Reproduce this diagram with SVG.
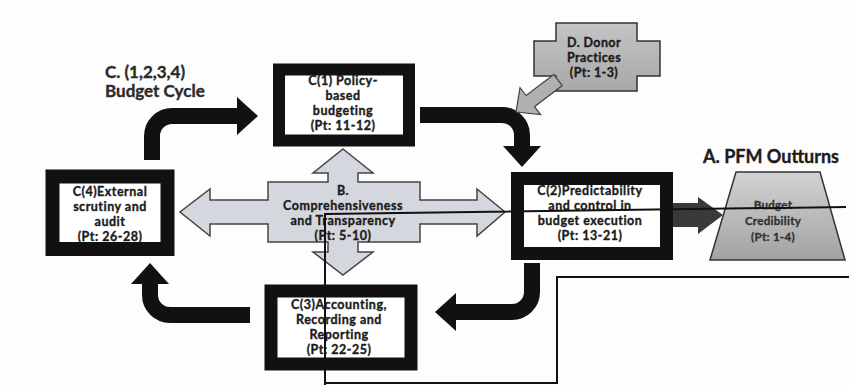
<svg xmlns="http://www.w3.org/2000/svg" width="849" height="385" viewBox="0 0 849 385">
<defs>
<style>
.t{font-family:Lato,"Liberation Sans",sans-serif;font-weight:bold;fill:#1c1c1c;text-anchor:middle;stroke:#1c1c1c;stroke-width:0.35px}
.bx{font-size:12.5px;letter-spacing:0.5px}
.ttl{font-size:17px;text-anchor:start;fill:#2a2a2a;stroke:#2a2a2a}
.box{fill:#fff;stroke:#111}
.blk{fill:none;stroke:#111;stroke-width:16}
.thin{fill:none;stroke:#111;stroke-width:2}
.gr{fill:#333;stroke:#333;font-size:11.5px;letter-spacing:0.3px}
</style>
<marker id="ah" markerUnits="userSpaceOnUse" markerWidth="22" markerHeight="38" viewBox="0 0 22 38" refX="0" refY="19" orient="auto">
<path d="M0,0 L21,19 L0,38 z" fill="#111"/>
</marker>
<linearGradient id="gA" x1="0" y1="0" x2="0" y2="1">
<stop offset="0" stop-color="#d2d2d2"/>
<stop offset="1" stop-color="#a2a2a2"/>
</linearGradient>
<linearGradient id="gD" x1="0" y1="0" x2="0" y2="1">
<stop offset="0" stop-color="#c4c4c4"/>
<stop offset="1" stop-color="#a8a8a8"/>
</linearGradient>
</defs>
<rect width="849" height="385" fill="#fdfdfd"/>

<g id="connectors">
<path class="blk" d="M152,160 V136 A20,20 0 0 1 172,116 H237" marker-end="url(#ah)"/>
<path class="blk" d="M420,115 H502 A20,20 0 0 1 522,135 V146" marker-end="url(#ah)"/>
<path class="blk" d="M532,263 V292 A20,20 0 0 1 512,312 H456" marker-end="url(#ah)"/>
<path class="blk" d="M250,315 H170 A20,20 0 0 1 150,295 V284" marker-end="url(#ah)"/>
<polygon points="673,203 698,203 698,197 723,215 698,234 698,227 673,227" fill="#3a3a3a"/>
</g>

<g id="B">
<polygon points="343,149 373,173 358,173 358,182 420,182 420,200 477,200 477,189 505,212 477,236 477,224 420,224 420,242 358,242 358,252 373,252 343,275 313,252 328,252 328,242 268,242 268,224 210,224 210,236 180,212 210,189 210,200 268,200 268,182 328,182 328,173 313,173" fill="#d5d7de" stroke="#444" stroke-width="1.5"/>
<text class="t bx" x="343" y="195">B.</text>
<text class="t bx" x="343" y="210">Comprehensiveness</text>
<text class="t bx" x="343" y="225">and Transparency</text>
<text class="t bx" x="343" y="240">(Pt: 5-10)</text>
</g>

<g id="C1">
<rect class="box" x="279" y="69.5" width="130" height="71" stroke-width="12"/>
<text class="t bx" x="343" y="85">C(1) Policy-</text>
<text class="t bx" x="343" y="100">based</text>
<text class="t bx" x="343" y="115">budgeting</text>
<text class="t bx" x="343" y="130">(Pt: 11-12)</text>
</g>

<g id="C2">
<rect class="box" x="517.5" y="178.5" width="149" height="75" stroke-width="13"/>
<text class="t bx" x="590" y="195">C(2)Predictability</text>
<text class="t bx" x="590" y="210">and control in</text>
<text class="t bx" x="590" y="225">budget execution</text>
<text class="t bx" x="590" y="240">(Pt: 13-21)</text>
</g>

<g id="C3">
<rect class="box" x="271" y="291" width="140" height="73" stroke-width="13"/>
<text class="t bx" x="339" y="309">C(3)Accounting,</text>
<text class="t bx" x="339" y="324">Recording and</text>
<text class="t bx" x="339" y="339">Reporting</text>
<text class="t bx" x="339" y="354">(Pt: 22-25)</text>
</g>

<g id="C4">
<rect class="box" x="52.5" y="176.5" width="115" height="72.5" stroke-width="14"/>
<text class="t bx" x="110" y="196">C(4)External</text>
<text class="t bx" x="110" y="211">scrutiny and</text>
<text class="t bx" x="110" y="226">audit</text>
<text class="t bx" x="110" y="241">(Pt: 26-28)</text>
</g>

<g id="cycle-label">
<text class="t ttl" x="105" y="78">C. (1,2,3,4)</text>
<text class="t ttl" x="105" y="97">Budget Cycle</text>
</g>

<g id="A">
<text class="t" x="771" y="163" style="font-size:18px">A. PFM Outturns</text>
<polygon points="736,172 820,172 845,260 710,260" fill="url(#gA)" stroke="#333" stroke-width="1.5"/>
<text class="t gr" x="773" y="209">Budget</text>
<text class="t gr" x="773" y="225">Credibility</text>
<text class="t gr" x="773" y="241">(Pt: 1-4)</text>
</g>

<g id="D">
<polygon points="556,23 637,23 637,41 660,41 660,76 637,76 637,91 556,91 556,76 534,76 534,41 556,41" fill="url(#gD)" stroke="#333" stroke-width="1.5"/>
<text class="t" x="594" y="47" style="font-size:12.5px;letter-spacing:0.4px">D. Donor</text>
<text class="t" x="594" y="62" style="font-size:12.5px;letter-spacing:0.4px">Practices</text>
<text class="t" x="594" y="77" style="font-size:12.5px;letter-spacing:0.4px">(Pt: 1-3)</text>
<polygon points="553.8,74.4 526.1,95.5 520,87.6 516,112 540.6,114.6 534.5,106.7 562.2,85.6" fill="#b0b0b0" stroke="#444" stroke-width="1.2"/>
</g>

<g id="overlay-lines">
<path class="thin" d="M325,385 V214 L846,207"/>
<path class="thin" d="M325,383 H557 V277 H849"/>
</g>
</svg>
